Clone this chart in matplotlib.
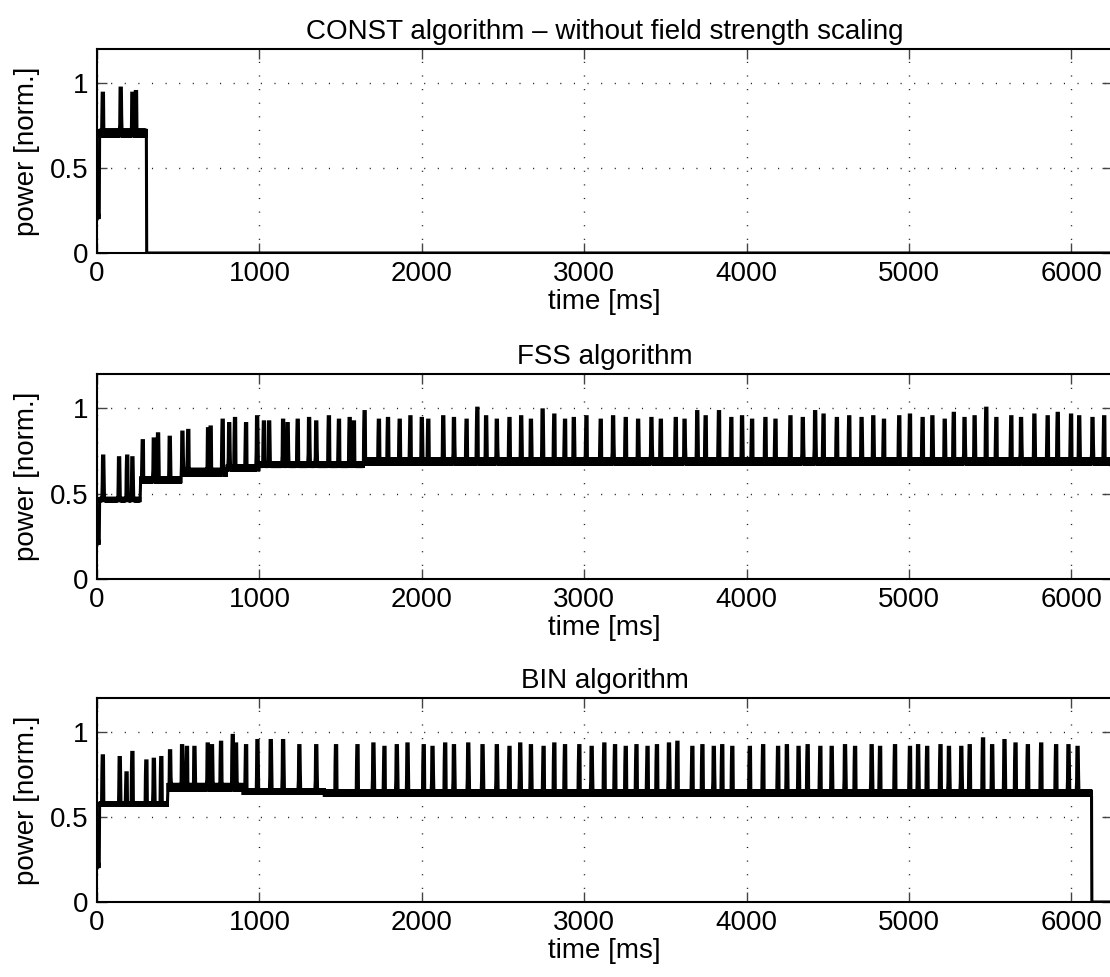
import numpy as np
import matplotlib
matplotlib.use("Agg")
import matplotlib.pyplot as plt

plt.rcParams['font.family'] = ['Liberation Sans', 'DejaVu Sans']

# ---------------------------------------------------------------- data
titles = ["CONST algorithm \u2013 without field strength scaling",
          "FSS algorithm",
          "BIN algorithm"]
xlabel = "time [ms]"
ylabel = "power [norm.]"
xticks = [0, 1000, 2000, 3000, 4000, 5000, 6000]
yticks = [0, 0.5, 1]
ytick_labels = ["0", "0.5", "1"]

# baseline segments: start time [ms], lower / upper edge of the noise band
const_seg_t = [0, 15]
const_seg_lo = [0.20, 0.68]
const_seg_hi = [0.23, 0.73]
const_off = 305
const_spike_t = [22, 133, 205, 226]
const_spike_v = [0.94, 0.97, 0.94, 0.95]

fss_seg_t = [0, 15, 268, 520, 800, 1000, 1650]
fss_seg_lo = [0.20, 0.45, 0.56, 0.60, 0.63, 0.65, 0.665]
fss_seg_hi = [0.23, 0.48, 0.60, 0.65, 0.67, 0.69, 0.71]
fss_off = None
fss_spike_t = [25, 123, 172, 205, 268, 337, 363, 435, 513, 548, 671, 686,
               760, 801, 836, 904, 973, 1014, 1047, 1133, 1161, 1222, 1293,
               1337, 1414, 1476, 1542, 1568, 1634, 1722, 1778, 1850, 1916,
               1987, 2026, 2119, 2185, 2262, 2328, 2383, 2449, 2526, 2599,
               2659, 2731, 2802, 2868, 2923, 3000, 3088, 3165, 3242, 3319,
               3401, 3458, 3550, 3605, 3683, 3734, 3816, 3892, 3959, 4020,
               4102, 4164, 4256, 4333, 4409, 4460, 4542, 4618, 4695, 4767,
               4832, 4926, 4992, 5070, 5131, 5207, 5262, 5329, 5391, 5462,
               5524, 5616, 5677, 5759, 5840, 5902, 5984, 6035, 6117, 6188]
fss_spike_v = [0.72, 0.71, 0.72, 0.71, 0.81, 0.82, 0.85, 0.83, 0.86, 0.87,
               0.88, 0.89, 0.93, 0.91, 0.94, 0.91, 0.95, 0.92, 0.92, 0.93,
               0.91, 0.93, 0.94, 0.92, 0.95, 0.93, 0.94, 0.92, 0.98, 0.93,
               0.94, 0.93, 0.95, 0.94, 0.93, 0.95, 0.94, 0.93, 1.00, 0.95,
               0.93, 0.94, 0.95, 0.93, 0.99, 0.96, 0.93, 0.94, 0.95, 0.93,
               0.95, 0.94, 0.93, 0.94, 0.93, 0.94, 0.93, 0.98, 0.95, 0.98,
               0.94, 0.95, 0.93, 0.94, 0.93, 0.95, 0.94, 0.98, 0.96, 0.94,
               0.95, 0.94, 0.95, 0.93, 0.95, 0.96, 0.94, 0.95, 0.93, 0.97,
               0.94, 0.95, 1.00, 0.94, 0.95, 0.94, 0.96, 0.95, 0.97, 0.96,
               0.95, 0.94, 0.95]

bin_seg_t = [0, 15, 435, 900, 1400]
bin_seg_lo = [0.20, 0.56, 0.65, 0.63, 0.62]
bin_seg_hi = [0.23, 0.59, 0.70, 0.67, 0.66]
bin_off = 6125
bin_spike_t = [22, 127, 168, 204, 290, 337, 382, 437, 511, 540, 587, 669,
               695, 750, 822, 843, 904, 975, 1057, 1133, 1233, 1337, 1458,
               1590, 1689, 1756, 1833, 1899, 1998, 2053, 2130, 2185, 2273,
               2361, 2449, 2526, 2593, 2659, 2736, 2802, 2868, 2956, 3033,
               3110, 3176, 3242, 3308, 3376, 3434, 3509, 3560, 3652, 3714,
               3785, 3836, 3898, 4006, 4088, 4180, 4235, 4307, 4362, 4440,
               4511, 4593, 4654, 4757, 4808, 4900, 4992, 5043, 5098, 5180,
               5233, 5309, 5360, 5442, 5499, 5575, 5642, 5718, 5800, 5892,
               5969, 6025]
bin_spike_v = [0.86, 0.85, 0.76, 0.88, 0.83, 0.84, 0.85, 0.89, 0.92, 0.91,
               0.91, 0.93, 0.92, 0.94, 0.98, 0.93, 0.92, 0.95, 0.95, 0.95,
               0.92, 0.92, 0.92, 0.92, 0.93, 0.91, 0.92, 0.93, 0.92, 0.91,
               0.93, 0.92, 0.93, 0.92, 0.92, 0.91, 0.93, 0.92, 0.91, 0.93,
               0.92, 0.92, 0.91, 0.93, 0.92, 0.91, 0.92, 0.91, 0.92, 0.93,
               0.94, 0.91, 0.92, 0.91, 0.92, 0.91, 0.91, 0.92, 0.91, 0.92,
               0.91, 0.92, 0.91, 0.91, 0.92, 0.91, 0.92, 0.91, 0.92, 0.91,
               0.92, 0.91, 0.92, 0.91, 0.91, 0.92, 0.96, 0.92, 0.95, 0.93,
               0.92, 0.93, 0.92, 0.92, 0.91]

T_END = 6250


# ---------------------------------------------------------------- signal
def power_trace(seg_t, seg_lo, seg_hi, spike_t, spike_v, t_off, dt=2.0):
    t = np.arange(0.0, T_END + dt, dt)
    idx = np.searchsorted(seg_t, t, side="right") - 1
    lo = np.asarray(seg_lo)[idx]
    hi = np.asarray(seg_hi)[idx]
    # alternate between the edges of the noise band
    y = np.where(np.arange(t.size) % 2 == 0, lo, hi)
    rise, hold, fall = 9.0, 9.0, 6.0
    for ts, v in zip(spike_t, spike_v):
        env = np.interp(t, [ts, ts + rise, ts + rise + hold,
                            ts + rise + hold + fall],
                        [0.0, v, v, 0.0], left=0.0, right=0.0)
        y = np.maximum(y, env)
    if t_off is not None:
        y[t >= t_off] = 0.0
    return t, y


traces = [
    power_trace(const_seg_t, const_seg_lo, const_seg_hi,
                const_spike_t, const_spike_v, const_off),
    power_trace(fss_seg_t, fss_seg_lo, fss_seg_hi,
                fss_spike_t, fss_spike_v, fss_off),
    power_trace(bin_seg_t, bin_seg_lo, bin_seg_hi,
                bin_spike_t, bin_spike_v, bin_off),
]

# ---------------------------------------------------------------- figure
W, H = 1110, 977
fig = plt.figure(figsize=(W / 100, H / 100), dpi=100)

left_px, right_px = 97, 1112
boxes = [(49, 253), (374, 579), (698, 902)]
FS = 20

for (top_px, bot_px), (t, y), title in zip(boxes, traces, titles):
    ax = fig.add_axes([left_px / W, 1 - bot_px / H,
                       (right_px - left_px) / W, (bot_px - top_px) / H])
    ax.plot(t, y, color="black", lw=2.2, solid_joinstyle="miter")
    ax.set_xlim(0, T_END)
    ax.set_ylim(0, 1.2)
    ax.set_xticks(xticks)
    ax.set_xticklabels([str(v) for v in xticks])
    ax.set_yticks(yticks)
    ax.set_yticklabels(ytick_labels)
    ax.grid(True, color="#222222", linestyle=(0, (0.8, 9.0)), linewidth=1.0)
    ax.tick_params(direction="in", length=7, width=1.0, color="#444444",
                   top=True, right=True, labelsize=FS, pad=6)
    for sp in ax.spines.values():
        sp.set_linewidth(1.5)
    ax.set_xlabel(xlabel, fontsize=FS, labelpad=1)
    ax.set_ylabel(ylabel, fontsize=FS, labelpad=7)
    ax.set_title(title, fontsize=FS, pad=7)

fig.savefig("out.png", dpi=100)
